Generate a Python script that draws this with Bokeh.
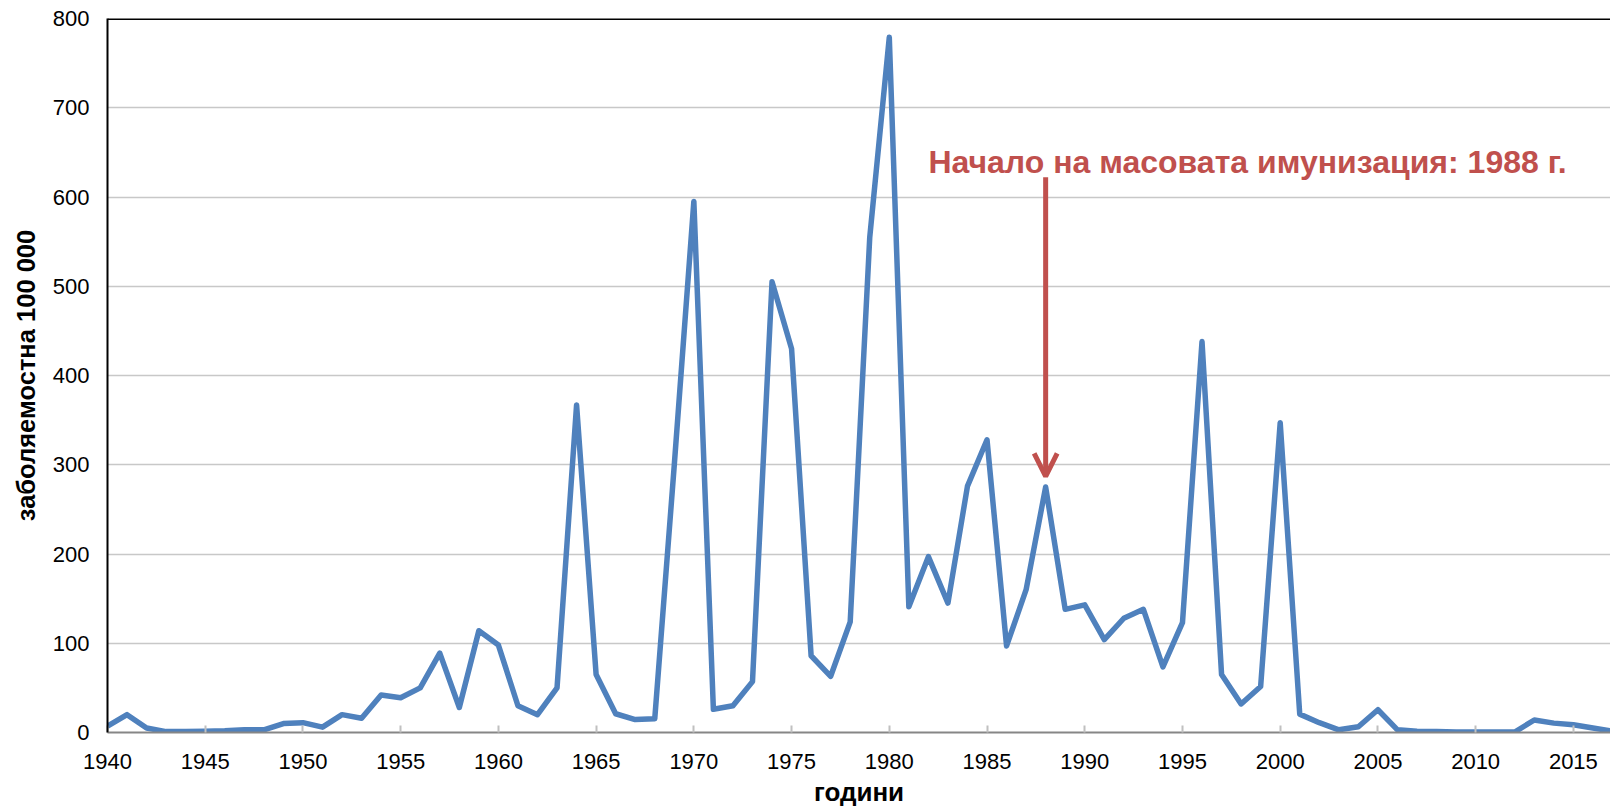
from bokeh.plotting import figure
from bokeh.models import Range1d, FixedTicker, Arrow, OpenHead, Label, Span, Title
from bokeh.embed import file_html
from bokeh.resources import INLINE

# ---- data ----
years = list(range(1940, 2018))
incidence = [
    7, 20, 5, 1, 1, 1.5, 2, 3, 3, 10,          # 1940-1949
    11, 6, 20, 16, 42, 39, 50, 89, 28, 114,    # 1950-1959
    98, 30, 20, 50, 367, 65, 21, 14.5, 15.5, 300,  # 1960-1969
    595, 26, 30, 57, 505, 430, 86, 63, 124, 555,   # 1970-1979
    779, 141, 197, 145, 276, 328, 97, 160, 275, 138,  # 1980-1989
    143, 104, 128, 138, 73.5, 123, 438, 65, 32, 51.5,  # 1990-1999
    347, 20.6, 11, 3, 6.4, 25.5, 3, 1.5, 1, 0.7,   # 2000-2009
    0.7, 0.5, 0.5, 14, 10.5, 8.6, 5, 1.5,          # 2010-2017
]
x_ticks = list(range(1940, 2016, 5))
y_ticks = list(range(0, 801, 100))
x_label = "години"
y_label = "заболяемостна 100 000"
annot_text = "Начало на масовата имунизация: 1988 г."
annot_year = 1988
arrow_from = 622
arrow_to = 287
annot_text_x = 1982
annot_text_y = 639

BLUE = "#4f81bd"
RED = "#c0504d"
FONT = "Liberation Sans"

x_start, x_end = 1940, 2016.9

p = figure(width=1610, height=810, output_backend="svg", toolbar_location=None,
           x_range=Range1d(x_start, x_end), y_range=Range1d(0, 800),
           min_border_left=107, min_border_right=0, min_border_top=18,
           min_border_bottom=78)
p.outline_line_color = None
p.background_fill_color = "white"
p.border_fill_color = "white"

p.line(years, incidence, line_color=BLUE, line_width=5.5, line_join="round")

# axes
xa = p.xaxis[0]
xa.ticker = FixedTicker(ticks=x_ticks)
xa.major_label_text_font = FONT
xa.major_label_text_font_size = "22px"
xa.major_label_text_color = "black"
xa.major_label_standoff = 21
xa.axis_line_color = "#868686"
xa.axis_line_width = 2
xa.major_tick_in = 7
xa.major_tick_out = 0
xa.major_tick_line_color = "#c0c0c0"
xa.major_tick_line_width = 2
xa.minor_tick_line_color = None

ya = p.yaxis[0]
ya.ticker = FixedTicker(ticks=y_ticks)
ya.axis_label = y_label
ya.axis_label_text_font = FONT
ya.axis_label_text_font_style = "bold"
ya.axis_label_text_font_size = "25.5px"
ya.axis_label_text_color = "black"
ya.axis_label_standoff = 10
ya.major_label_text_font = FONT
ya.major_label_text_font_size = "22px"
ya.major_label_text_color = "black"
ya.major_label_standoff = 18
ya.axis_line_color = "black"
ya.axis_line_width = 2
ya.major_tick_in = 0
ya.major_tick_out = 0
ya.minor_tick_line_color = None

p.xgrid.grid_line_color = None
p.ygrid.ticker = FixedTicker(ticks=y_ticks)
p.ygrid.grid_line_color = "#c8c8c8"
p.ygrid.grid_line_width = 1.5

# top border
p.add_layout(Span(location=800, dimension="width", line_color="black", line_width=3))

# x axis title (as a title panel below the axis)
p.add_layout(Title(text=x_label, align="center", vertical_align="bottom", standoff=6,
                   text_font=FONT, text_font_style="bold", text_font_size="26px",
                   text_color="black"), "below")

# annotation
p.add_layout(Arrow(end=OpenHead(size=23, line_color=RED, line_width=5),
                   x_start=annot_year, y_start=arrow_from,
                   x_end=annot_year, y_end=arrow_to,
                   line_color=RED, line_width=5))
p.add_layout(Label(x=annot_text_x, y=annot_text_y, text=annot_text,
                   text_font=FONT, text_font_style="bold", text_font_size="32px",
                   text_color=RED, text_baseline="alphabetic", text_align="left"))

open("out.html", "w").write(file_html(p, INLINE))
